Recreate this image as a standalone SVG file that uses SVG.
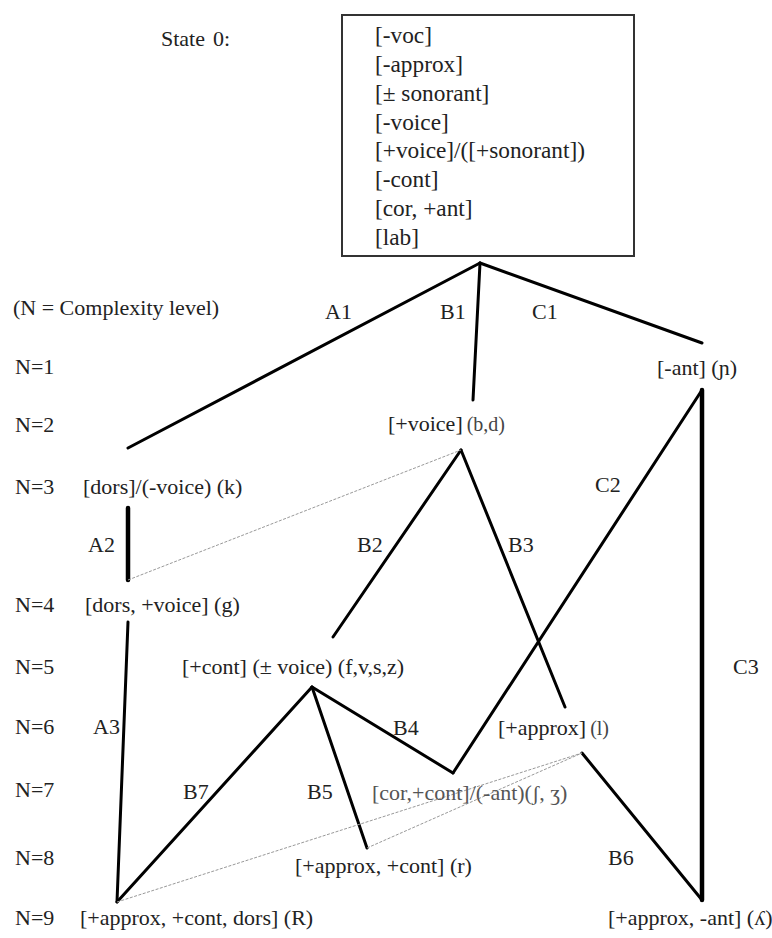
<svg xmlns="http://www.w3.org/2000/svg" width="772" height="938" viewBox="0 0 772 938">
<style>
text{font-family:"Liberation Serif","DejaVu Serif",serif;font-size:22px;fill:#222}
.box{font-size:23.3px}
.sm{font-size:20px;fill:#444}
.lt{fill:#555}
.edge{stroke:#000;stroke-width:3;fill:none;stroke-linecap:round}
.thick{stroke-width:4.5}
.faint{stroke:#999;stroke-width:1;stroke-dasharray:3 1.5;fill:none}
</style>
<rect width="772" height="938" fill="#fff"/>
<g id="legend">
<text x="161" y="46" font-size="23">State<tspan dx="8">0:</tspan></text>
<text x="13" y="315">(N = Complexity level)</text>
<text x="15" y="374">N=1</text>
<text x="15" y="432">N=2</text>
<text x="15" y="494">N=3</text>
<text x="15" y="612">N=4</text>
<text x="15" y="674">N=5</text>
<text x="15" y="734">N=6</text>
<text x="15" y="797">N=7</text>
<text x="15" y="865">N=8</text>
<text x="15" y="925">N=9</text>
</g>
<g id="state0">
<rect x="342" y="15" width="292" height="241" fill="#fff" stroke="#333" stroke-width="2"/>
<text class="box" x="375" y="43">[-voc]</text>
<text class="box" x="375" y="72">[-approx]</text>
<text class="box" x="375" y="101">[± sonorant]</text>
<text class="box" x="375" y="130">[-voice]</text>
<text class="box" x="375" y="158">[+voice]/([+sonorant])</text>
<text class="box" x="375" y="187">[-cont]</text>
<text class="box" x="375" y="216">[cor, +ant]</text>
<text class="box" x="375" y="245">[lab]</text>
</g>
<g id="connectors">
<line class="edge" x1="480" y1="263" x2="128" y2="448"/>
<line class="edge" x1="480" y1="263" x2="473" y2="400"/>
<line class="edge" x1="480" y1="263" x2="702" y2="343"/>
<line class="edge thick" x1="128" y1="508" x2="128" y2="580"/>
<line class="edge" x1="128" y1="622" x2="117" y2="902"/>
<line class="edge" x1="461" y1="450" x2="333" y2="637"/>
<line class="edge" x1="461" y1="450" x2="565" y2="707"/>
<line class="edge" x1="702" y1="390" x2="453" y2="773"/>
<line class="edge thick" x1="702" y1="390" x2="702" y2="900"/>
<line class="edge" x1="312" y1="687" x2="453" y2="773"/>
<line class="edge" x1="312" y1="687" x2="367" y2="848"/>
<line class="edge" x1="312" y1="687" x2="117" y2="902"/>
<line class="edge" x1="582" y1="753" x2="702" y2="900"/>
<line class="faint" x1="128" y1="580" x2="461" y2="450"/>
<line class="faint" x1="117" y1="902" x2="582" y2="753"/>
<line class="faint" x1="367" y1="848" x2="582" y2="753"/>
<text x="325" y="319">A1</text>
<text x="440" y="319">B1</text>
<text x="532" y="319">C1</text>
<text x="88" y="552">A2</text>
<text x="357" y="552">B2</text>
<text x="508" y="552">B3</text>
<text x="595" y="492">C2</text>
<text x="93" y="734">A3</text>
<text x="393" y="735">B4</text>
<text x="183" y="799">B7</text>
<text x="307" y="799">B5</text>
<text x="608" y="865">B6</text>
<text x="733" y="674">C3</text>
</g>
<g id="n-ant"><text x="657" y="375">[-ant] (ɲ)</text></g>
<g id="n-voice"><text x="388" y="431">[+voice]<tspan class="sm" dx="4">(b,d)</tspan></text></g>
<g id="n-dors"><text x="83" y="494">[dors]/(-voice) (k)</text></g>
<g id="n-dors-voice"><text x="85" y="612">[dors, +voice] (g)</text></g>
<g id="n-cont"><text x="182" y="674">[+cont] (± voice) (f,v,s,z)</text></g>
<g id="n-approx"><text x="498" y="735">[+approx]<tspan class="sm" dx="4">(l)</tspan></text></g>
<g id="n-cor-cont"><text class="lt" x="372" y="800" font-size="21">[cor,+cont]/(-ant)(ʃ, ʒ)</text></g>
<g id="n-approx-cont"><text x="295" y="873">[+approx, +cont] (r)</text></g>
<g id="n-approx-cont-dors"><text x="80" y="925" font-size="23.3">[+approx, +cont, dors] (R)</text></g>
<g id="n-approx-ant"><text x="608" y="925">[+approx, -ant] (ʎ)</text></g>
</svg>
